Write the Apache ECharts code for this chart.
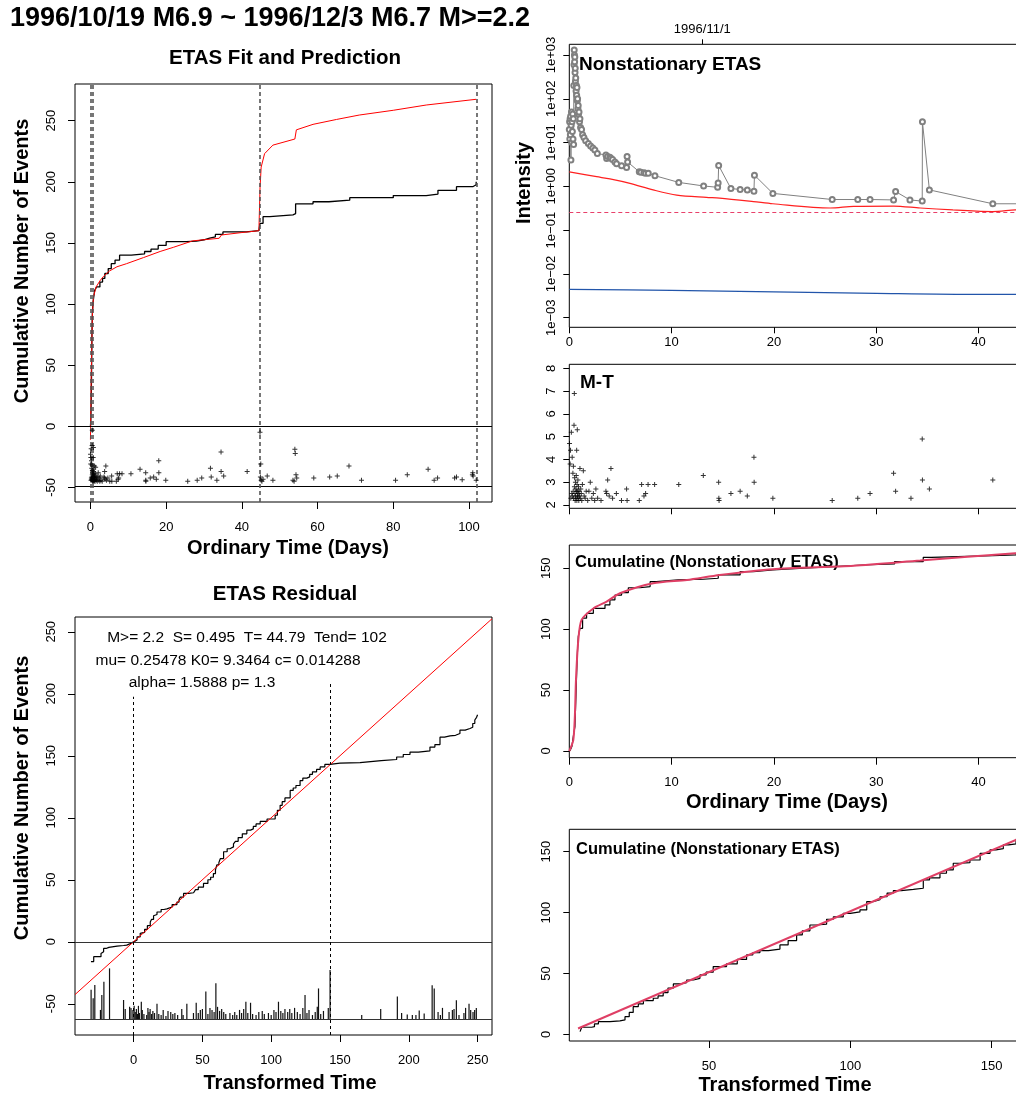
<!DOCTYPE html>
<html><head><meta charset="utf-8">
<script src="https://cdn.jsdelivr.net/npm/echarts@6/dist/echarts.min.js"></script>
<style>html,body{margin:0;padding:0;background:#fff}#c{width:1016px;height:1094px}</style>
</head><body><div id="c"></div><script>
// ---------------- DATA ----------------
const mainTitle = '1996/10/19 M6.9 ~ 1996/12/3 M6.7 M>=2.2';
const fitTitle = 'ETAS Fit and Prediction';
const resTitle = 'ETAS Residual';
const paramLines = ['M>= 2.2  S= 0.495  T= 44.79  Tend= 102', 'mu= 0.25478 K0= 9.3464 c= 0.014288', 'alpha= 1.5888 p= 1.3'];

// Panel 1: cumulative counts vs ordinary time (days)
const fitObserved = [[0,0],[0.1,5],[0.2,20],[0.3,45],[0.4,75],[0.5,92],[0.7,102],[1.1,111],[1.6,114],[2.5,118],[3.2,121],[3.8,125],[4.7,129],[5.5,133],[6.5,136],[7.7,140],[10.8,141],[14.3,143],[16,145],[17.9,148],[20,151],[25.3,151.5],[28,152.6],[30,154],[31.5,155],[33,157],[35,159],[41.2,160],[44.5,161.5],[44.8,166],[45.6,171.5],[47.4,173],[53.5,174],[54.2,182],[58.8,183.7],[63,185],[68.5,187],[80,188.7],[88.7,190],[91.8,193],[96.7,196],[101,197.6],[101.9,200]];
const fitPredicted = [[0,-11],[0.2,40],[0.5,90],[0.8,106],[1.5,114],[2.5,119],[3.4,122.5],[5,127],[7,130.5],[9.5,133],[14,138],[18.4,143],[22,146.5],[27,151.7],[34,153.8],[34.6,156.5],[40,158.5],[44.5,160],[44.8,195],[45.1,212],[46,223],[48.2,230],[54,235],[54.4,242.5],[58.8,247],[65,251],[71,254.6],[80,258.5],[88.7,262.8],[101.9,267.5]];
const fitMarkerTimes = [0, 0.495, 44.79, 102];
const fitBandLevels = [0, -49.4];

// Earthquakes: [time (days), magnitude]
const quakes = [[0.02,4.7],[0.08,3.8],[0.12,4.4],[0.15,2.3],[0.2,5.2],[0.25,2.5],[0.28,4.1],[0.3,2.4],[0.35,3.4],[0.38,2.6],[0.4,3.7],[0.42,2.3],[0.46,5.5],[0.49,6.9],[0.5,2.8],[0.52,3.2],[0.55,2.5],[0.57,2.2],[0.6,3.0],[0.62,2.4],[0.64,2.7],[0.66,2.3],[0.68,3.3],[0.7,2.6],[0.72,4.4],[0.74,2.2],[0.76,2.9],[0.78,5.3],[0.8,2.4],[0.82,2.6],[0.84,3.1],[0.86,2.3],[0.88,2.5],[0.9,2.8],[0.93,2.2],[0.96,2.6],[1.0,2.4],[1.04,3.6],[1.08,2.3],[1.12,2.7],[1.17,2.5],[1.22,2.2],[1.28,2.9],[1.37,3.5],[1.45,2.4],[1.55,2.3],[1.65,2.6],[1.8,2.2],[1.92,2.6],[2.05,3.0],[2.2,2.3],[2.35,2.5],[2.48,2.2],[2.6,2.7],[2.77,2.3],[3.1,2.2],[3.58,2.6],[3.65,2.5],[3.75,3.1],[3.9,2.4],[4.07,3.6],[4.23,2.3],[4.6,2.5],[5.1,2.2],[5.6,2.7],[5.65,2.2],[6.84,2.2],[7.07,2.9],[7.3,2.4],[7.46,2.5],[7.7,2.9],[8.34,2.9],[10.7,2.9],[13.1,3.3],[14.6,3.0],[14.62,2.3],[14.64,2.2],[15.8,2.5],[16.7,2.6],[17.4,2.4],[18.05,4.1],[18.07,3.0],[19.9,2.3],[25.7,2.2],[28.2,2.3],[29.4,2.5],[31.7,3.4],[31.9,2.6],[33.4,2.3],[34.5,4.9],[34.52,3.1],[35.2,2.7],[41.4,3.1],[44.79,6.7],[45.0,3.8],[44.9,2.6],[45.1,2.3],[45.3,2.2],[45.6,2.4],[46.7,2.7],[48.2,2.3],[53.5,2.3],[53.8,2.2],[54.0,5.15],[54.1,4.75],[54.3,2.8],[54.5,2.5],[59.0,2.5],[63.2,2.6],[65.2,2.7],[68.3,3.6],[71.6,2.3],[80.6,2.3],[83.7,2.8],[89.2,3.3],[90.8,2.3],[91.7,2.5],[96.2,2.5],[96.7,2.6],[98.2,2.35],[100.9,2.8],[101.0,3.0],[101.1,2.7],[101.9,2.3]];

// Panel 2: residual (transformed time)
const resObserved = [[-31,-16],[-30,-16],[-29,-12],[-26,-12],[-23.7,-9.4],[-22.5,-8],[-21.8,-5.4],[-20,-4.5],[-18,-3.5],[-12,-3],[-7.3,-2.7],[-5,-1.5],[-2.4,0],[-1,0.5],[1,1.5],[2.5,4],[4.8,6.8],[6,7.5],[8,10],[10,13],[12.1,16],[13,18],[14.5,21],[15.5,22],[17,24],[20,26],[22,26.5],[24.2,28],[28,30],[31.5,32],[33,34],[34,36],[36.3,39],[40,39.5],[43.6,40],[45,42],[47,44],[50.8,47],[54,50],[56,52],[58,55],[59.5,58],[60.5,62],[62,64],[63,67],[65.4,72.6],[68,75],[70,76.5],[72.6,79],[74,81],[76,84],[79,87],[82.3,90],[85,91],[87,93],[89,95],[92,97],[97,99],[102.9,102],[104.5,106],[106.5,110],[108,113],[110,116],[113.8,122],[116,124],[118,126],[121,130],[123,132],[125.9,133],[128,135],[130,137],[133,139],[135.6,141],[139,143],[142.8,144],[150,144.5],[164.6,146],[180,147],[191.2,149],[196,151],[200.9,153],[207,154],[215.4,157],[219,159],[222.7,165],[226,166],[230,166.5],[234,168],[237.2,170.7],[241,172],[244.5,173],[246.5,176],[248,178.8],[249.3,181],[250,183]];
const resIdeal = [[-42.6,-42.6],[260.5,260.5]];
const resMarkers = [[0,197.6],[142.8,209.7]];
const resBandLevels = [0, -62.4];
const resBarBaseMag = 1.9;
const resBars = [[-30.9,4.77],[-29.4,3.94],[-28.2,5.23],[-24.1,2.8],[-23.1,4.25],[-21.6,5.55],[-17.5,6.86],[-7.3,3.77],[-6.1,2.9],[-2.9,3.1],[-1.9,3.0],[-0.5,2.8],[0.4,3.2],[1.2,2.6],[2.0,2.9],[2.8,2.4],[3.5,3.2],[4.2,2.5],[5.6,3.6],[6.3,2.8],[7.5,2.4],[9.5,2.3],[10.4,3.0],[11.2,2.6],[12.0,2.9],[13.1,2.4],[14.0,2.7],[15.2,2.5],[17.0,3.4],[18.3,2.4],[20.0,2.3],[21.5,2.8],[23.5,2.2],[25.0,2.7],[27.0,2.6],[28.5,2.4],[30.0,2.5],[32.0,2.3],[35.0,2.9],[36.0,2.3],[38.7,3.4],[43.5,2.5],[45.5,3.5],[47.0,2.5],[48.5,2.8],[50.0,2.9],[52.5,4.6],[54.0,2.4],[55.5,3.0],[57.0,2.8],[58.5,2.6],[59.8,5.4],[61.0,3.1],[62.5,2.7],[64.0,2.9],[65.5,2.6],[67.0,2.4],[70.0,2.5],[72.0,2.3],[73.5,2.6],[75.0,2.3],[77.0,2.8],[78.5,2.5],[80.0,2.9],[81.6,3.6],[83.0,2.5],[85.0,3.5],[86.5,2.4],[89.0,2.3],[91.0,2.6],[93.5,2.7],[95.0,2.4],[98.0,2.5],[100.0,2.3],[102.0,2.8],[103.5,2.6],[105.3,3.6],[107.0,2.7],[108.5,2.5],[110.0,2.9],[112.0,2.6],[113.5,2.9],[115.0,2.5],[117.0,3.0],[119.0,2.6],[121.0,2.4],[123.0,3.0],[124.6,4.25],[126.0,2.5],[127.5,2.8],[130.0,2.3],[132.0,2.6],[133.5,3.1],[134.4,4.9],[136.0,2.4],[138.0,2.7],[141.5,3.0],[142.8,6.7],[165.8,2.3],[179.6,2.9],[191.7,4.1],[194.8,2.5],[198.9,2.35],[202.6,2.3],[205.2,2.3],[207.6,2.75],[211.2,2.45],[217.0,5.2],[218.5,4.9],[221.3,2.6],[223.0,2.3],[224.5,3.0],[229.3,2.6],[231.7,2.8],[232.9,2.9],[234.6,3.75],[236.5,2.3],[240.1,2.5],[241.3,3.0],[243.8,3.4],[245.0,2.8],[246.7,2.6],[247.9,2.8],[249.1,3.0]];

// Panel 3: nonstationary ETAS intensity
const intensityObs = [[0.00,20],[0.03,30],[0.05,12],[0.08,35],[0.10,15],[0.13,40],[0.16,4],[0.18,25],[0.21,50],[0.24,10],[0.27,30],[0.30,18],[0.33,45],[0.36,12],[0.39,35],[0.42,9],[0.44,200],[0.46,600],[0.48,1300],[0.50,1000],[0.52,700],[0.54,900],[0.56,400],[0.58,500],[0.60,250],[0.63,300],[0.66,150],[0.69,200],[0.72,120],[0.75,180],[0.78,90],[0.81,100],[0.84,60],[0.87,70],[0.9,45],[0.95,50],[1.0,30],[1.04,35],[1.1,22],[1.2,20],[1.3,15],[1.43,13],[1.6,11],[1.86,9.5],[2.08,8.3],[2.3,7.5],[2.5,6.8],[2.74,5.6],[3.58,5.2],[3.65,4.3],[3.75,4.8],[3.97,4.6],[4.07,4.4],[4.23,4.1],[4.46,3.6],[4.62,3.3],[5.11,2.95],[5.6,2.7],[5.65,4.8],[5.7,3.6],[6.84,2.15],[7.0,2.1],[7.3,2.05],[7.46,2.0],[7.72,2.0],[8.37,1.75],[10.7,1.23],[13.13,1.02],[14.5,0.95],[14.55,1.2],[14.6,3.0],[15.8,0.89],[16.7,0.85],[17.4,0.82],[18.05,0.77],[18.1,1.8],[19.9,0.69],[25.7,0.5],[28.2,0.5],[29.4,0.5],[31.7,0.49],[31.9,0.76],[33.3,0.49],[34.5,0.46],[34.52,30],[35.2,0.83],[41.4,0.40],[46.6,0.40]];
const intensityFit = [[0,2.14],[2.67,1.66],[3.97,1.48],[5.93,1.17],[8.2,0.83],[10.5,0.63],[13.4,0.56],[14.7,0.54],[18,0.45],[19.9,0.40],[25.5,0.32],[27.8,0.35],[31.7,0.355],[34.3,0.32],[37.5,0.29],[41.4,0.265],[43.6,0.29],[46.6,0.30]];
const intensityMu = 0.25478;
const backgroundRate = [[0,0.00443],[10,0.0042],[20,0.0039],[30,0.0036],[40,0.0034],[46.6,0.0034]];
const backgroundLevel = 0.00443;
const logTicks = [1e-3,1e-2,1e-1,1,10,100,1000];
const dateTick = {t: 13, label: '1996/11/1'};

// Panel 5 / 6: cumulative (nonstationary ETAS)
const cumObsOrd = [[0.07,0.3],[0.25,3.6],[0.39,11.8],[0.55,20],[0.65,45],[0.72,64],[0.8,82],[0.88,94],[1.04,100.7],[1.3,109],[1.69,113],[2.35,117],[3.49,120],[3.97,124],[4.46,128],[5.11,130],[5.77,134],[6.9,135],[7.9,139],[8.5,140.4],[10.65,141],[13.1,141.8],[14.56,144.5],[16.7,147.3],[18,148.6],[19.9,150],[22.9,151.4],[25.8,152.7],[28.7,153.6],[31.8,155.5],[34.6,159],[35.4,160.4],[41.4,161],[43.6,162.3],[46.6,162.3]];
const cumFitOrd = [[0,0],[0.39,9],[0.55,30],[0.65,58],[0.88,91],[1.2,107.6],[2.35,117],[3.65,122.6],[4.95,129.5],[8.2,137.7],[11.5,140.4],[14.7,144.5],[19.9,149.2],[27.8,152],[34.3,156.3],[43.6,162.3],[46.6,163.2]];
const cumObsTr = [[4.4,2.2],[5,5.8],[8.5,6.3],[9.5,8.5],[10.9,10.4],[15,11],[18.5,11.8],[20.3,14.5],[21.8,18],[23.2,22.7],[25,25],[26.8,27.7],[30.3,29.6],[32,31.5],[33.8,34.2],[35.5,38],[37.4,41.4],[40,42.5],[42.1,44.6],[44.5,46],[46.8,48.8],[49,51],[51.5,55.6],[56.2,57.8],[60,61.5],[63.3,65.2],[65.5,67],[68,68.7],[71,70],[75.1,73.4],[78,77],[81,81.6],[83,85],[85.7,89.8],[88,90.5],[91.6,94.5],[94,96.5],[97.5,99.4],[100,100.5],[103.4,102.2],[105.8,109],[108,110.5],[110.5,113],[113,116],[115.2,118],[118,119],[122.3,120],[125.8,126.8],[128,128.5],[131.7,132.3],[134,135],[136.4,140.5],[139,141],[142.3,143.2],[145.9,148.7],[149.4,151.5],[151.5,152.5],[154.1,155.6],[156,156.5],[158.6,160.2],[165,163]];
const cumFitTr = [[3.7,4.8],[169,170.2]];

// ---------------- CHART ----------------
const FONT = 'Liberation Sans, Arial, Helvetica, sans-serif';
const chart = echarts.init(document.getElementById('c'), null, {renderer: 'canvas'});

function axis(type, grid, min, max, ticks, margin, o) {
  o = o || {};
  return Object.assign({
    type: o.log ? 'log' : 'value', gridIndex: grid, min: min, max: max,
    position: o.position,
    axisLine: {show: false, onZero: false},
    splitLine: {show: false},
    axisTick: {show: true, length: o.tickLen || 7, customValues: ticks, lineStyle: {color: '#000', width: 1}},
    axisLabel: {show: o.noLabels ? false : true, customValues: ticks, margin: margin, fontSize: 13, color: '#000',
      fontFamily: FONT, rotate: type === 'y' ? 90 : 0, formatter: o.formatter}
  }, o.logBase ? {logBase: 10} : {});
}
const hidden = (grid, min, max) => ({type: 'value', gridIndex: grid, min: min, max: max, show: false});

const plus = 'path://M4,0H6V4H10V6H6V10H4V6H0V4H4Z';
const ml = (data, style) => ({silent: true, symbol: ['none','none'], label: {show: false}, animation: false, lineStyle: style, data: data});
const gridBox = {show: true, borderColor: '#000', borderWidth: 1, backgroundColor: 'transparent', outerBoundsMode: 'none', containLabel: false};
const logFmt = v => { const e = Math.round(Math.log10(v)); return '1e' + (e < 0 ? '\u2212' : '+') + String(Math.abs(e)).padStart(2, '0'); };

const option = {
  animation: false,
  backgroundColor: '#fff',
  grid: [
    Object.assign({left: 75, top: 84, width: 417, height: 418}, gridBox),
    Object.assign({left: 75, top: 617, width: 417, height: 418}, gridBox),
    Object.assign({left: 569.3, top: 44.3, width: 476.7, height: 283}, gridBox),
    Object.assign({left: 569.3, top: 364.3, width: 476.7, height: 144}, gridBox),
    Object.assign({left: 569.3, top: 545, width: 476.7, height: 212.7}, gridBox),
    Object.assign({left: 569.3, top: 829.3, width: 476.7, height: 211.7}, gridBox)
  ],
  xAxis: [
    axis('x', 0, -4.08, 106.08, [0,20,40,60,80,100], 19),
    axis('x', 1, -42.6, 260.5, [0,50,100,150,200,250], 19),
    axis('x', 2, 0, 46.6, [0,10,20,30,40], 9, {tickLen: 6}),
    axis('x', 2, 0, 46.6, [dateTick.t], 8, {position: 'top', tickLen: 5, formatter: () => dateTick.label}),
    axis('x', 3, 0, 46.6, [0,10,20,30,40], 9, {tickLen: 6, noLabels: true}),
    axis('x', 4, 0, 46.6, [0,10,20,30,40], 18),
    axis('x', 5, 0.6, 169.2, [50,100,150], 19)
  ],
  yAxis: [
    axis('y', 0, -61.9, 280, [-50,0,50,100,150,200,250], 17),
    hidden(0, 0.301, 38.717),
    axis('y', 1, -75.2, 261.9, [-50,0,50,100,150,200,250], 17),
    hidden(1, 0.3485, 41.21),
    axis('y', 2, 6.04e-4, 1754, logTicks, 11, {log: true, logBase: true, tickLen: 6, formatter: logFmt}),
    axis('y', 3, 1.855, 8.18, [2,3,4,5,6,7,8], 11, {tickLen: 6}),
    axis('y', 4, -5.5, 169.1, [0,50,100,150], 16, {tickLen: 6}),
    axis('y', 5, -5.5, 168.4, [0,50,100,150], 16, {tickLen: 6})
  ],
  series: [
    // Panel 1
    {type: 'line', xAxisIndex: 0, yAxisIndex: 0, data: fitObserved, step: 'end', showSymbol: false, lineStyle: {color: '#000', width: 1.3}, z: 3,
      markLine: ml(fitBandLevels.map(v => ({yAxis: v})), {color: '#000', width: 1, type: 'solid'})},
    {type: 'line', xAxisIndex: 0, yAxisIndex: 0, data: fitPredicted, showSymbol: false, lineStyle: {color: '#ff0000', width: 1}, z: 4,
      markLine: ml(fitMarkerTimes.map(v => ({xAxis: v})), {color: '#555', width: 1.6, type: [4, 3]})},
    {type: 'scatter', xAxisIndex: 0, yAxisIndex: 1, data: quakes, symbol: plus, symbolSize: 5, itemStyle: {color: '#000'}, z: 5},
    // Panel 2
    {type: 'line', xAxisIndex: 1, yAxisIndex: 2, data: resObserved, step: 'end', showSymbol: false, lineStyle: {color: '#000', width: 1.2}, z: 3,
      markLine: ml(resBandLevels.map(v => ({yAxis: v})), {color: '#333', width: 1.2, type: 'solid'})},
    {type: 'line', xAxisIndex: 1, yAxisIndex: 2, data: resIdeal, showSymbol: false, lineStyle: {color: '#ff0000', width: 1}, z: 4,
      markLine: ml(resMarkers.map(m => [{coord: [m[0], -75.2]}, {coord: [m[0], m[1]]}]), {color: '#000', width: 1, type: [3, 3]})},
    {type: 'custom', xAxisIndex: 1, yAxisIndex: 3, data: resBars, z: 2,
      renderItem: (params, api) => {
        const p0 = api.coord([api.value(0), resBarBaseMag]);
        const p1 = api.coord([api.value(0), api.value(1)]);
        return {type: 'line', shape: {x1: p0[0], y1: p0[1], x2: p1[0], y2: p1[1]}, style: {stroke: '#111', lineWidth: 1.2}};
      }},
    // Panel 3
    {type: 'line', xAxisIndex: 2, yAxisIndex: 4, data: intensityObs, symbol: 'emptyCircle', symbolSize: 5, showSymbol: true,
      itemStyle: {color: '#808080', borderWidth: 1}, lineStyle: {color: '#808080', width: 1}, z: 3},
    {type: 'line', xAxisIndex: 2, yAxisIndex: 4, data: intensityFit, smooth: 0.3, showSymbol: false, lineStyle: {color: '#ff2020', width: 1.2}, z: 4,
      markLine: ml([{yAxis: intensityMu}], {color: '#e8406a', width: 1.2, type: [4, 3]})},
    {type: 'line', xAxisIndex: 2, yAxisIndex: 4, data: backgroundRate, smooth: 0.3, showSymbol: false, lineStyle: {color: '#2255aa', width: 1.2}, z: 4,
      markLine: ml([{yAxis: backgroundLevel}], {color: '#78aee6', width: 1.2, type: [4, 3]})},
    // Panel 4
    {type: 'scatter', xAxisIndex: 4, yAxisIndex: 5, data: quakes, symbol: plus, symbolSize: 5, itemStyle: {color: '#000'}},
    // Panel 5
    {type: 'line', xAxisIndex: 5, yAxisIndex: 6, data: cumObsOrd, step: 'end', showSymbol: false, lineStyle: {color: '#000', width: 1.2}, z: 3},
    {type: 'line', xAxisIndex: 5, yAxisIndex: 6, data: cumFitOrd, smooth: 0.25, showSymbol: false, lineStyle: {color: '#DF3F65', width: 2}, z: 4},
    // Panel 6
    {type: 'line', xAxisIndex: 6, yAxisIndex: 7, data: cumObsTr, step: 'end', showSymbol: false, lineStyle: {color: '#000', width: 1.2}, z: 3},
    {type: 'line', xAxisIndex: 6, yAxisIndex: 7, data: cumFitTr, showSymbol: false, lineStyle: {color: '#DF3F65', width: 2}, z: 4}
  ],
  graphic: [
    {type: 'text', left: 10, top: 5, style: {text: mainTitle, font: 'bold 27px ' + FONT, fill: '#000'}},
    {type: 'text', x: 285, y: 58, style: {text: fitTitle, font: 'bold 20.5px ' + FONT, fill: '#000', textAlign: 'center', textVerticalAlign: 'middle'}},
    {type: 'text', x: 285, y: 594, style: {text: resTitle, font: 'bold 20.5px ' + FONT, fill: '#000', textAlign: 'center', textVerticalAlign: 'middle'}},
    {type: 'text', x: 22, y: 261, rotation: Math.PI / 2, style: {text: 'Cumulative Number of Events', font: 'bold 20px ' + FONT, fill: '#000', textAlign: 'center', textVerticalAlign: 'middle'}},
    {type: 'text', x: 22, y: 798, rotation: Math.PI / 2, style: {text: 'Cumulative Number of Events', font: 'bold 20px ' + FONT, fill: '#000', textAlign: 'center', textVerticalAlign: 'middle'}},
    {type: 'text', x: 288, y: 548, style: {text: 'Ordinary Time (Days)', font: 'bold 20px ' + FONT, fill: '#000', textAlign: 'center', textVerticalAlign: 'middle'}},
    {type: 'text', x: 290, y: 1083, style: {text: 'Transformed Time', font: 'bold 20px ' + FONT, fill: '#000', textAlign: 'center', textVerticalAlign: 'middle'}},
    {type: 'text', x: 787, y: 802, style: {text: 'Ordinary Time (Days)', font: 'bold 20px ' + FONT, fill: '#000', textAlign: 'center', textVerticalAlign: 'middle'}},
    {type: 'text', x: 785, y: 1085, style: {text: 'Transformed Time', font: 'bold 20px ' + FONT, fill: '#000', textAlign: 'center', textVerticalAlign: 'middle'}},
    {type: 'text', x: 524, y: 183, rotation: Math.PI / 2, style: {text: 'Intensity', font: 'bold 20px ' + FONT, fill: '#000', textAlign: 'center', textVerticalAlign: 'middle'}},
    {type: 'text', x: 579, y: 65, style: {text: 'Nonstationary ETAS', font: 'bold 19px ' + FONT, fill: '#000', textVerticalAlign: 'middle'}},
    {type: 'text', x: 580, y: 383, style: {text: 'M-T', font: 'bold 19px ' + FONT, fill: '#000', textVerticalAlign: 'middle'}},
    {type: 'text', x: 575, y: 562, style: {text: 'Cumulatine (Nonstationary ETAS)', font: 'bold 16.5px ' + FONT, fill: '#000', textVerticalAlign: 'middle'}},
    {type: 'text', x: 576, y: 849, style: {text: 'Cumulatine (Nonstationary ETAS)', font: 'bold 16.5px ' + FONT, fill: '#000', textVerticalAlign: 'middle'}},
    {type: 'text', x: 247, y: 638, style: {text: paramLines[0], font: '15.5px ' + FONT, fill: '#000', textAlign: 'center', textVerticalAlign: 'middle'}},
    {type: 'text', x: 228, y: 661, style: {text: paramLines[1], font: '15.5px ' + FONT, fill: '#000', textAlign: 'center', textVerticalAlign: 'middle'}},
    {type: 'text', x: 202, y: 683, style: {text: paramLines[2], font: '15.5px ' + FONT, fill: '#000', textAlign: 'center', textVerticalAlign: 'middle'}}
  ]
};
chart.setOption(option);
</script></body></html>
